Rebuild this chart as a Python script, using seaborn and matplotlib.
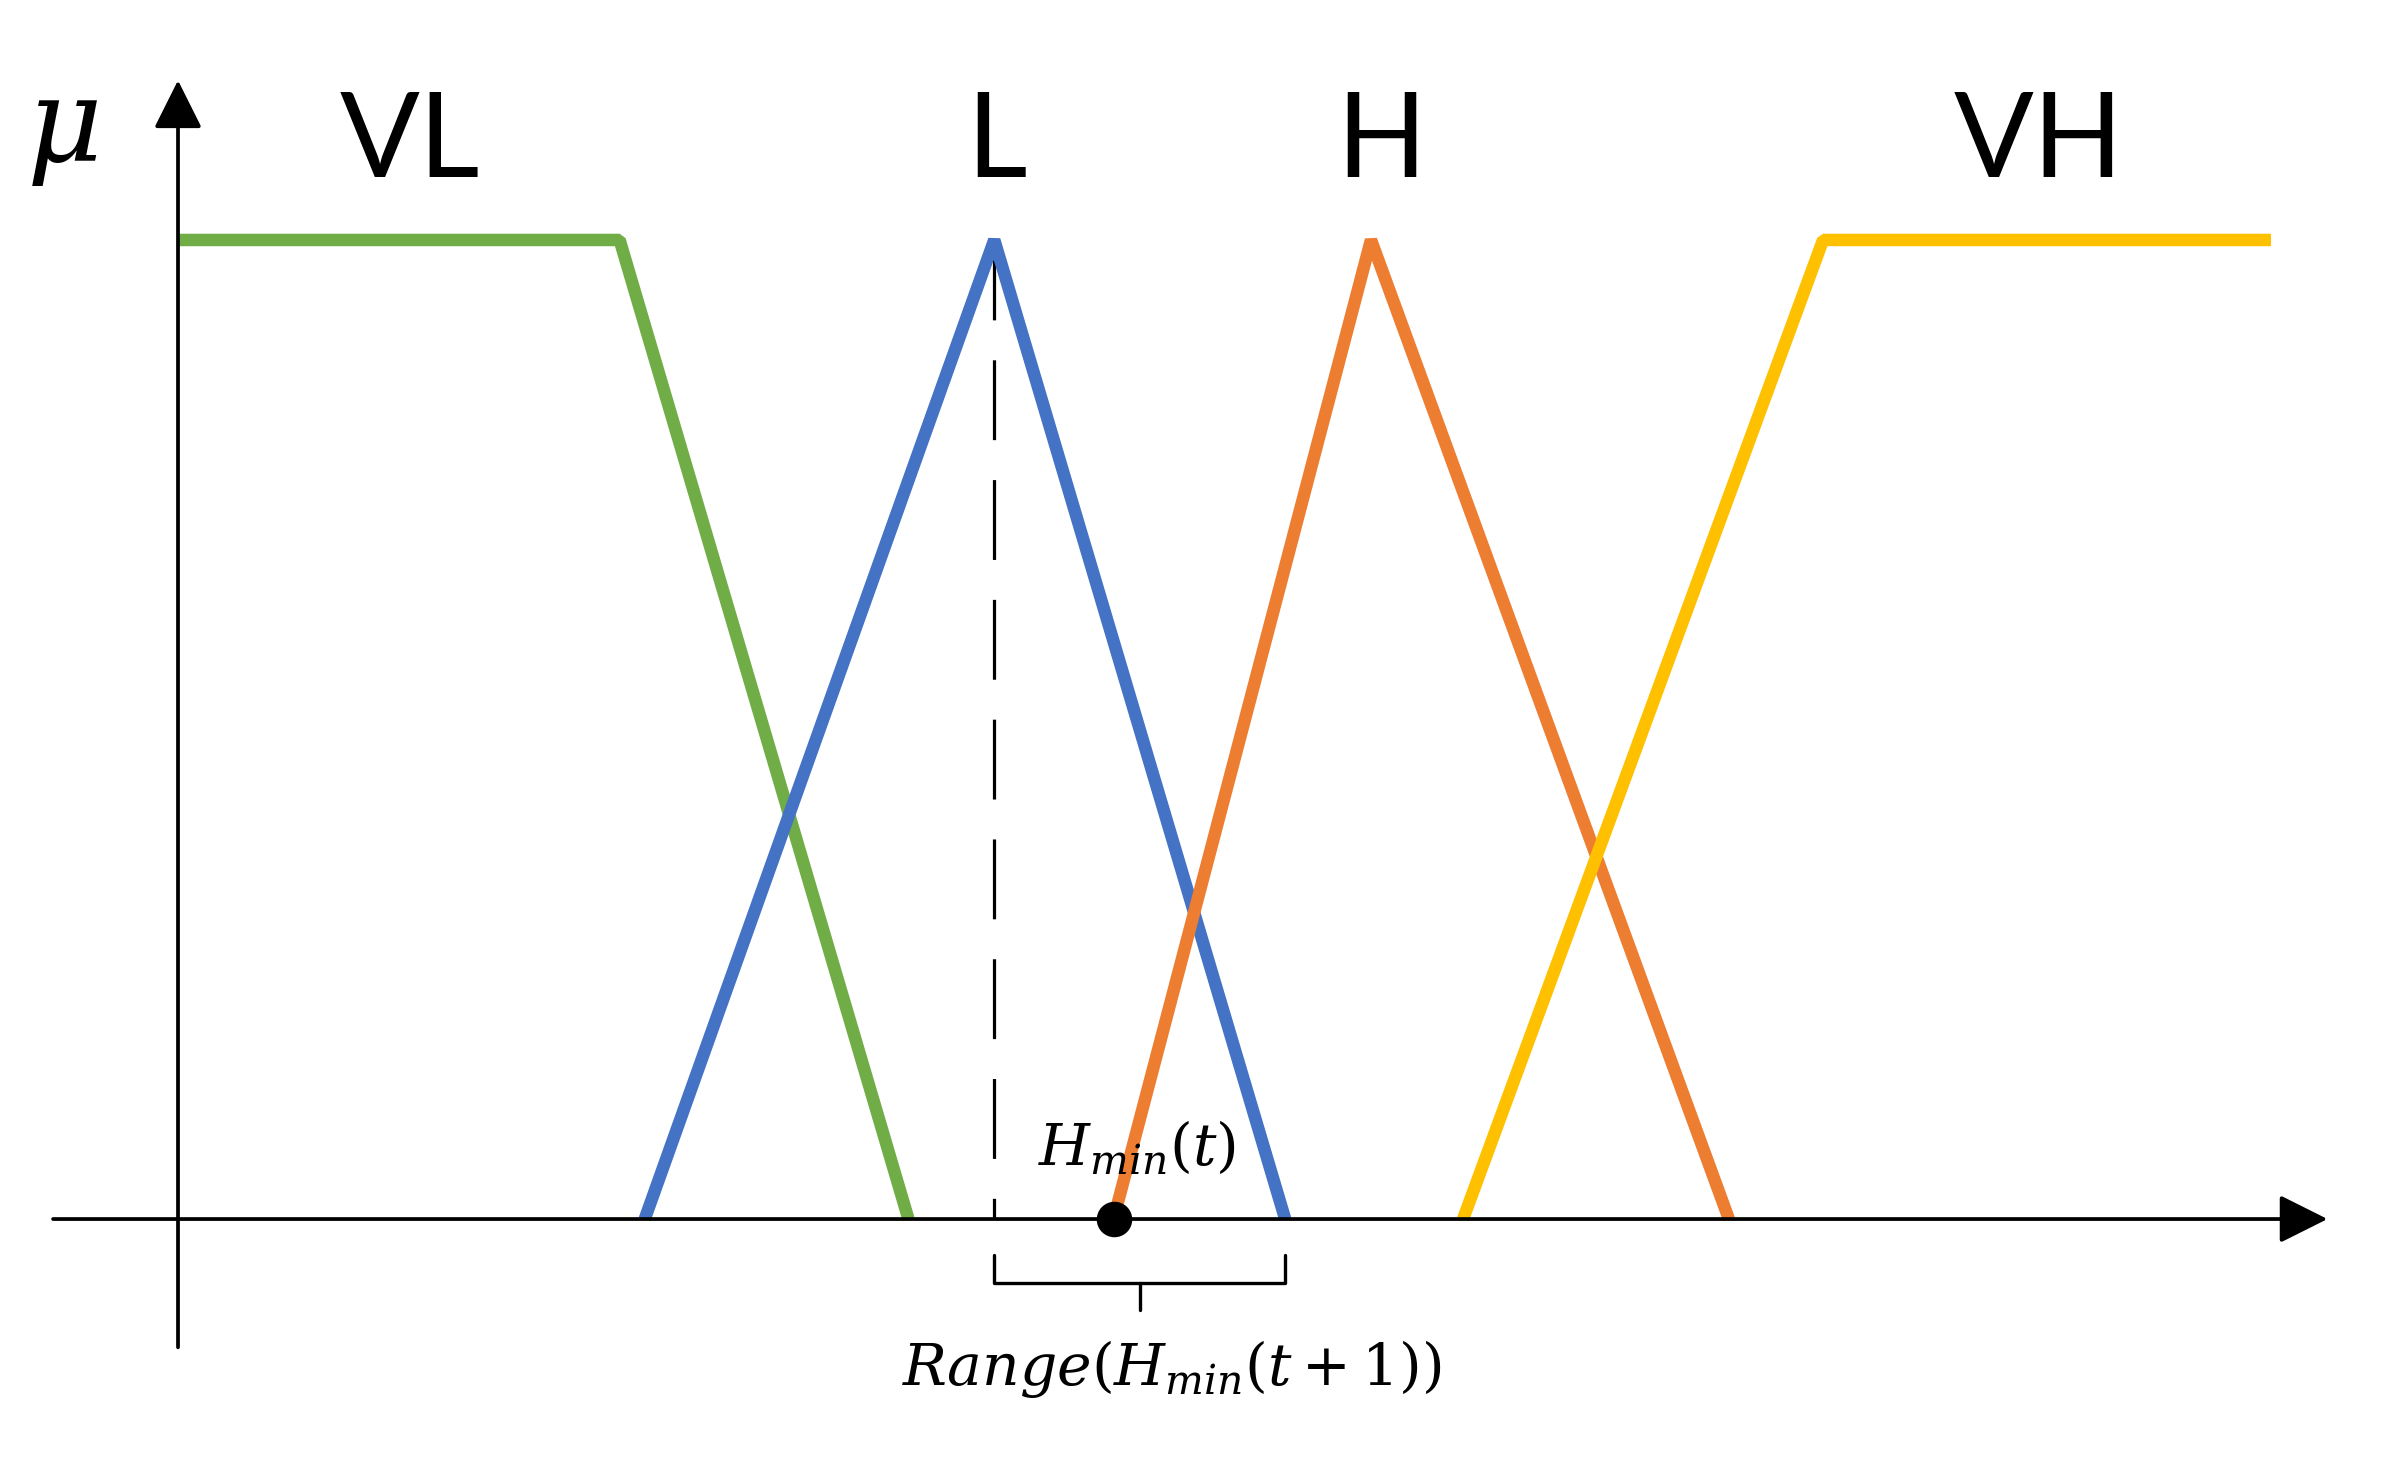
import numpy as np
import pandas as pd
import matplotlib
matplotlib.use("Agg")
import matplotlib.pyplot as plt
from matplotlib.patches import FancyArrowPatch
import seaborn as sns

# ---- data (membership function breakpoints, x in arbitrary units) ----
set_names = ["VL", "L", "H", "VH"]
vl_x = [0.0, 21.1, 34.9]
vl_mu = [1.0, 1.0, 0.0]
l_x = [22.3, 39.0, 52.9]
l_mu = [0.0, 1.0, 0.0]
h_x = [44.7, 57.0, 74.1]
h_mu = [0.0, 1.0, 0.0]
vh_x = [61.4, 78.6, 100.0]
vh_mu = [0.0, 1.0, 1.0]
hmin_t = 44.7            # current H_min(t)
range_lo = 39.0          # Range(H_min(t+1)) lower bound
range_hi = 52.9          # Range(H_min(t+1)) upper bound
label_x = [11.1, 39.1, 57.5, 88.9]

colors = {"VL": "#70AD47", "L": "#4472C4", "H": "#ED7D31", "VH": "#FFC000"}

rows = []
for name, xs, ms in zip(set_names, [vl_x, l_x, h_x, vh_x], [vl_mu, l_mu, h_mu, vh_mu]):
    for i, (x, m) in enumerate(zip(xs, ms)):
        rows.append({"set": name, "x": x, "mu": m, "order": i})
df = pd.DataFrame(rows)

sns.set_style("white")
plt.rcParams["font.family"] = ["Lato", "DejaVu Sans"]
plt.rcParams["mathtext.fontset"] = "dejavuserif"

fig = plt.figure(figsize=(23.84, 14.73), dpi=100)
ax = fig.add_axes([0, 0, 1, 1])
ax.set_xlim(-8.505, 105.4)
ax.set_ylim(-0.2594, 1.2451)
ax.axis("off")

# dashed reference line at the peak of L
ax.plot([range_lo, range_lo], [1.0, 0.0], color="black", lw=2.3,
        dashes=(25.0, 12.5), zorder=2)

# membership functions
n_before = len(ax.lines)
for name in set_names:
    sub = df[df["set"] == name].sort_values("order")
    sns.lineplot(data=sub, x="x", y="mu", color=colors[name],
                 sort=False, estimator=None, ax=ax, legend=False, zorder=3)
for line in ax.lines[n_before:]:
    line.set_linewidth(9.0)
    line.set_solid_capstyle("butt")
    line.set_solid_joinstyle("bevel")

# axes with arrows
ax.add_patch(FancyArrowPatch((-5.97, 0.0), (102.7, 0.0),
                             arrowstyle="-|>,head_length=1.0,head_width=0.5",
                             mutation_scale=30, lw=2.7, color="black",
                             shrinkA=0, shrinkB=0, zorder=4))
ax.add_patch(FancyArrowPatch((0.0, -0.131), (0.0, 1.163),
                             arrowstyle="-|>,head_length=1.0,head_width=0.5",
                             mutation_scale=30, lw=2.7, color="black",
                             shrinkA=0, shrinkB=0, zorder=4))

# H_min(t) point
sns.scatterplot(x=[hmin_t], y=[0.0], s=560, color="black", edgecolor="black",
                ax=ax, zorder=6, legend=False)

# bracket under the range
top_y, hor_y, tick_y = -0.0368, -0.0654, -0.093
mid = (range_lo + range_hi) / 2
ax.plot([range_lo, range_lo, range_hi, range_hi], [top_y, hor_y, hor_y, top_y],
        color="black", lw=2.4, solid_joinstyle="round", zorder=4)
ax.plot([mid, mid], [hor_y, tick_y], color="black", lw=2.4, zorder=4)

# labels
for name, lx in zip(set_names, label_x):
    ax.text(lx, 1.0643, name, ha="center", va="baseline", fontsize=85, color="black")
ax.text(-5.54, 1.107, r"$\mu$", ha="center", va="center", fontsize=84, color="black")
ax.text(45.8, 0.055, r"$H_{min}(t)$", ha="center", va="baseline", fontsize=42, color="black")
ax.text(47.5, -0.170, r"$Range(H_{min}(t+1))$", ha="center", va="baseline",
        fontsize=42, color="black")

fig.savefig("out.png", dpi=100, facecolor="white")
